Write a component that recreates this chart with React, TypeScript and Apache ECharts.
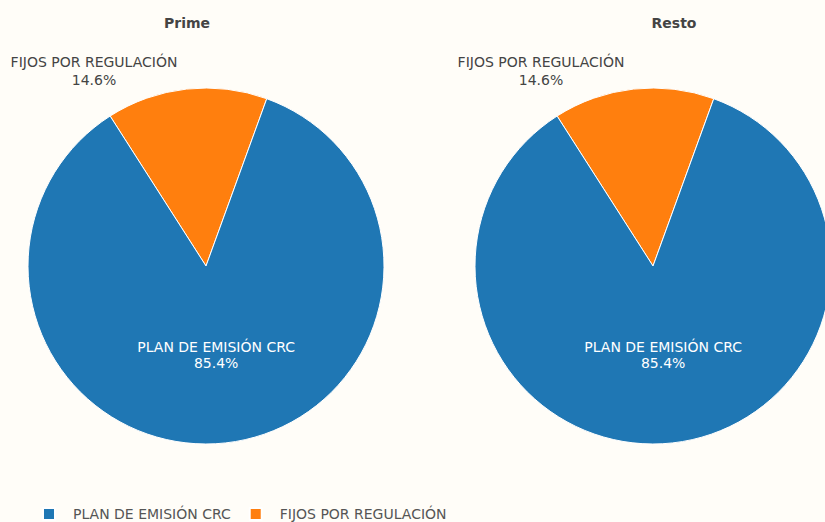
import React, { useEffect, useRef } from "react";
import * as echarts from "echarts";

const categories = ["FIJOS POR REGULACIÓN", "PLAN DE EMISIÓN CRC"];
const primeValues = [14.6, 85.4];
const restoValues = [14.6, 85.4];
const panelTitles = ["Prime", "Resto"];
const legendOrder = ["PLAN DE EMISIÓN CRC", "FIJOS POR REGULACIÓN"];
const colors: Record<string, string> = {
  "PLAN DE EMISIÓN CRC": "#1f77b4",
  "FIJOS POR REGULACIÓN": "#ff7f0e",
};

const FONT = "DejaVu Sans";

export default function App() {
  const ref = useRef<HTMLDivElement>(null);
  useEffect(() => {
    if (!ref.current) return;
    const chart = echarts.init(ref.current, null, { renderer: "svg" });
    const centers = [
      [206, 266],
      [653, 266],
    ];
    const makeSeries = (vals: number[], idx: number) => ({
      type: "pie",
      name: panelTitles[idx],
      center: centers[idx],
      radius: 178,
      startAngle: 122.6,
      clockwise: true,
      avoidLabelOverlap: false,
      itemStyle: { borderColor: "#ffffff", borderWidth: 1 },
      labelLine: { show: false },
      emphasis: { disabled: true },
      data: categories.map((c, i) => ({
        name: c,
        value: vals[i],
        itemStyle: { color: colors[c] },
        label:
          i === 0
            ? {
                show: true,
                position: "outside",
                color: "#444",
                fontFamily: FONT,
                fontSize: 14,
                lineHeight: 18,
                formatter: (p: any) => `${p.name}\n${p.percent.toFixed(1)}%`,
              }
            : {
                show: true,
                position: "inside",
                color: "#ffffff",
                fontFamily: FONT,
                fontSize: 14,
                lineHeight: 16,
                formatter: (p: any) => `${p.name}\n${p.percent.toFixed(1)}%`,
              },
      })),
      labelLayout: (params: any) => {
        if (params.dataIndex === 0) {
          return {
            x: centers[idx][0] - 112,
            y: 71,
            align: "center",
            verticalAlign: "middle",
          };
        }
        return { dy: -2 };
      },
    });
    chart.setOption({
      animation: false,
      backgroundColor: "#fffdf8",
      title: [
        {
          text: panelTitles[0],
          left: 182,
          top: 11,
          textAlign: "center",
          textStyle: { fontFamily: FONT, fontSize: 14, fontWeight: "bold", color: "#444" },
        },
        {
          text: panelTitles[1],
          left: 669,
          top: 11,
          textAlign: "center",
          textStyle: { fontFamily: FONT, fontSize: 14, fontWeight: "bold", color: "#444" },
        },
      ],
      legend: {
        data: legendOrder.map((n) => ({ name: n, itemStyle: { color: colors[n] } })),
        left: 42,
        top: 507,
        padding: 0,
        icon: "rect",
        itemWidth: 12,
        itemHeight: 12,
        itemGap: 18,
        textStyle: {
          fontFamily: FONT,
          fontSize: 14,
          lineHeight: 14,
          color: "#555",
          padding: [0, 0, 0, 13],
        },
        selectedMode: false,
      },
      series: [makeSeries(primeValues, 0), makeSeries(restoValues, 1)],
    });
    return () => chart.dispose();
  }, []);
  return (
    <div
      ref={ref}
      style={{ position: "fixed", left: 0, top: 0, width: 825, height: 522 }}
    />
  );
}
